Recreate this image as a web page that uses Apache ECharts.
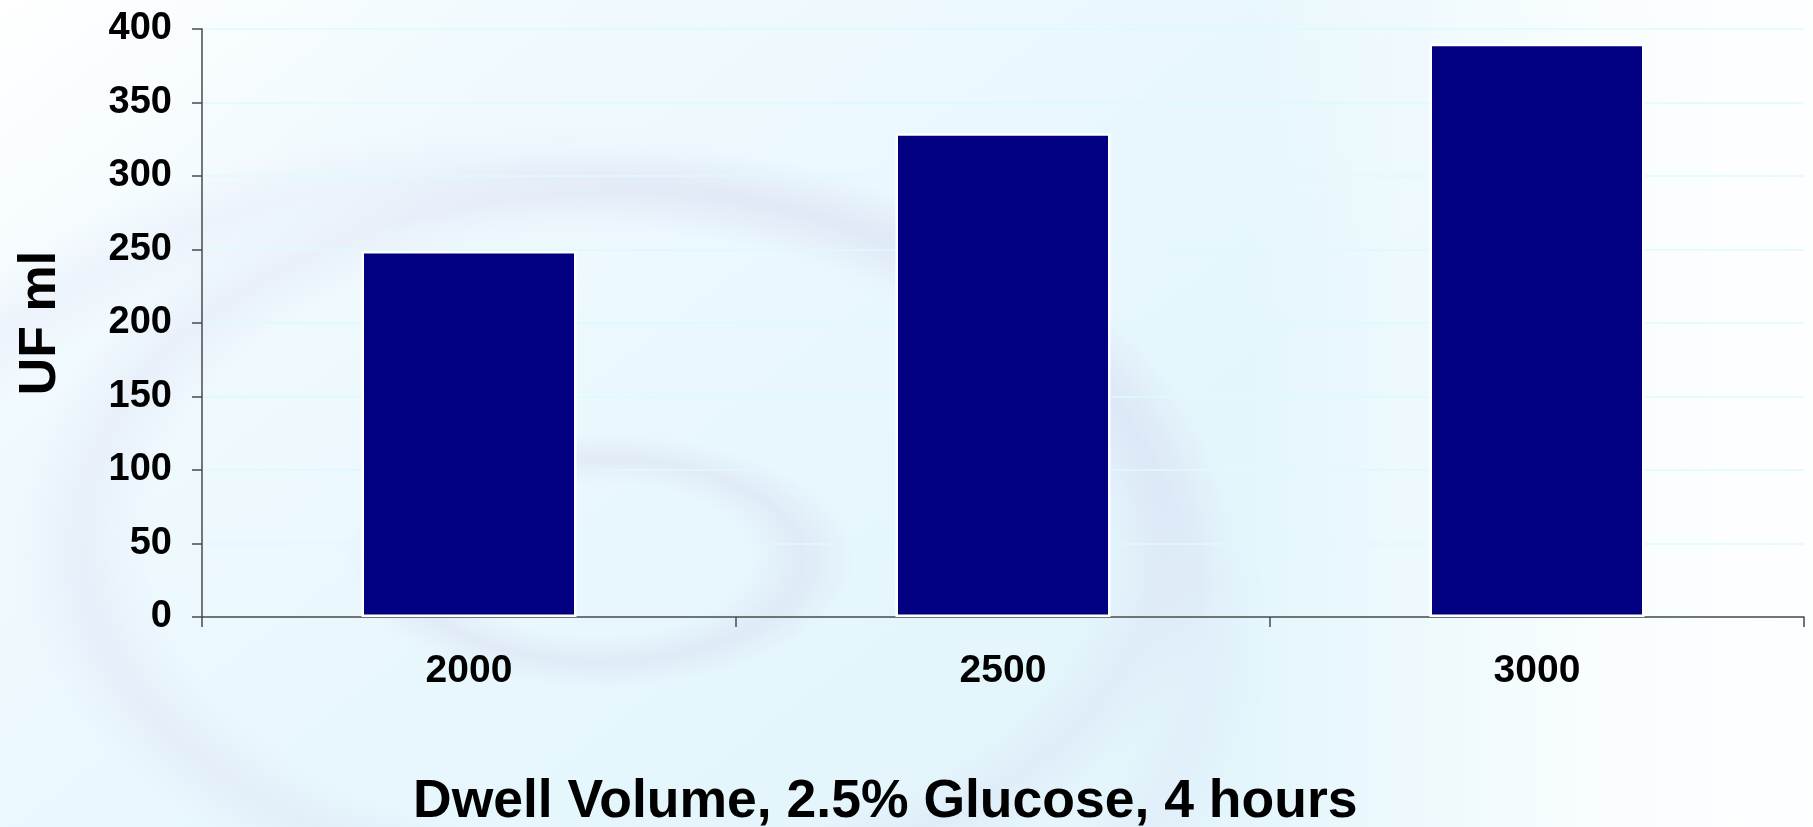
<!DOCTYPE html>
<html>
<head>
<meta charset="utf-8">
<script src="https://cdn.jsdelivr.net/npm/echarts@6/dist/echarts.min.js"></script>
<style>
  html, body { margin: 0; padding: 0; }
  #chart { width: 1813px; height: 827px; }
</style>
</head>
<body>
<div id="chart"></div>
<script>
// Ultrafiltration volume by dwell volume
const categories = ['2000', '2500', '3000'];
const ufValues = [249, 329, 390];
const yTicks = { min: 0, max: 400, step: 50 };
const yAxisTitle = 'UF ml';
const xAxisTitle = 'Dwell Volume, 2.5% Glucose, 4 hours';

const FONT = '"Liberation Sans", Arial, sans-serif';

const chart = echarts.init(document.getElementById('chart'), null, { renderer: 'canvas' });

// soft water-ripple ring: an ellipse filled with a radial band
function ripple(cx, cy, rx, ry, at, spread, alpha) {
  const c = 'rgba(204,200,234,';
  return {
    type: 'circle',
    x: cx, y: cy,
    scaleX: 1, scaleY: ry / rx,
    shape: { cx: 0, cy: 0, r: rx },
    silent: true,
    z: -10,
    style: {
      fill: {
        type: 'radial', x: 0.5, y: 0.5, r: 0.5,
        colorStops: [
          { offset: 0, color: c + '0)' },
          { offset: Math.max(0, at - spread), color: c + '0)' },
          { offset: at, color: c + alpha + ')' },
          { offset: Math.min(1, at + spread), color: c + '0)' },
          { offset: 1, color: c + '0)' }
        ]
      }
    }
  };
}

const option = {
  backgroundColor: {
    type: 'linear', x: 0, y: 0, x2: 0.35, y2: 1,
    colorStops: [
      { offset: 0, color: '#ffffff' },
      { offset: 0.3, color: '#f1fafe' },
      { offset: 1, color: '#e4f6fc' }
    ]
  },
  animation: false,
  graphic: [
    ripple(600, 560, 260, 130, 0.78, 0.2, 0.26),
    ripple(620, 540, 620, 400, 0.87, 0.11, 0.2),
    ripple(520, 640, 760, 520, 0.9, 0.09, 0.15),
    {
      type: 'rect', silent: true, z: -9,
      shape: { x: 1250, y: 0, width: 563, height: 827 },
      style: {
        fill: {
          type: 'linear', x: 0, y: 0, x2: 1, y2: 0,
          colorStops: [
            { offset: 0, color: 'rgba(255,255,255,0)' },
            { offset: 0.65, color: 'rgba(255,255,255,0.8)' },
            { offset: 1, color: 'rgba(255,255,255,0.95)' }
          ]
        }
      }
    },
    {
      type: 'text',
      left: 413,
      top: 775,
      z: 10,
      style: {
        text: xAxisTitle,
        font: 'bold 53.5px ' + FONT,
        fill: '#000000'
      }
    }
  ],
  grid: {
    left: 202,
    right: 9,
    top: 29,
    bottom: 210,
    containLabel: false,
    outerBoundsMode: 'none'
  },
  xAxis: {
    type: 'category',
    data: categories,
    axisLine: { show: true, lineStyle: { color: '#4a4a4a', width: 1.5 } },
    axisTick: { show: true, length: 10, alignWithLabel: false, lineStyle: { color: '#4a4a4a', width: 1.5 } },
    axisLabel: {
      margin: 35,
      color: '#000000',
      fontFamily: FONT,
      fontWeight: 'bold',
      fontSize: 39
    },
    splitLine: { show: false }
  },
  yAxis: {
    type: 'value',
    min: yTicks.min,
    max: yTicks.max,
    interval: yTicks.step,
    name: yAxisTitle,
    nameLocation: 'middle',
    nameGap: 135,
    nameRotate: 90,
    nameTextStyle: {
      color: '#000000',
      fontFamily: FONT,
      fontWeight: 'bold',
      fontSize: 52
    },
    axisLine: { show: true, lineStyle: { color: '#4a4a4a', width: 1.5 } },
    axisTick: { show: true, length: 10, lineStyle: { color: '#4a4a4a', width: 1.5 } },
    axisLabel: {
      margin: 30,
      color: '#000000',
      fontFamily: FONT,
      fontWeight: 'bold',
      fontSize: 38
    },
    splitLine: { show: true, lineStyle: { color: '#dcfbfb', width: 1.5 } }
  },
  series: [{
    type: 'bar',
    data: ufValues,
    barWidth: 215,
    itemStyle: {
      color: '#000080',
      borderColor: '#ffffff',
      borderWidth: 2.5
    }
  }]
};

chart.setOption(option);
</script>
</body>
</html>
